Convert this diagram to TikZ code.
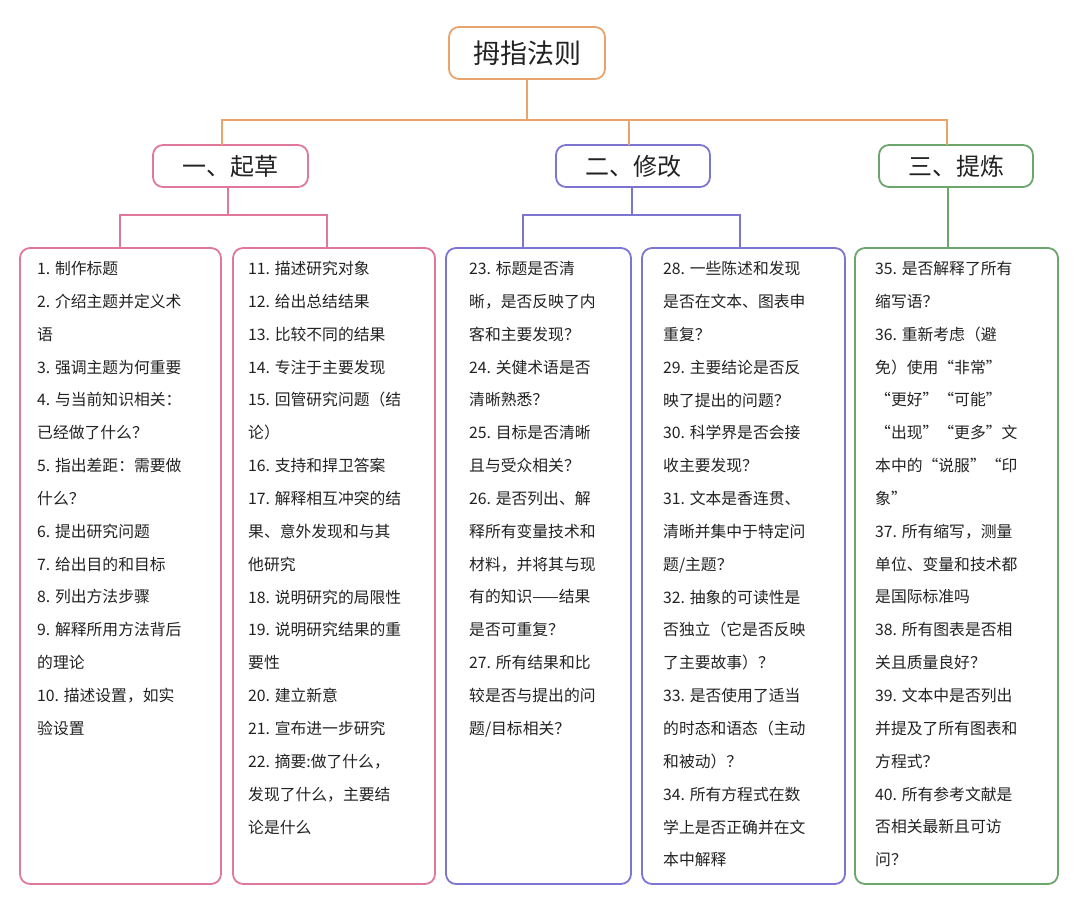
\documentclass[tikz,border=0pt]{standalone}
\usepackage{fontspec}
\setmainfont{Noto Sans CJK SC}
\definecolor{corg}{HTML}{E8A46A}
\definecolor{cpink}{HTML}{E0789A}
\definecolor{cpur}{HTML}{7C76D2}
\definecolor{cgrn}{HTML}{6CA66C}
\definecolor{ctxt}{HTML}{222222}
\tikzset{
 box/.style={draw=#1,line width=1.8pt,rounded corners=10pt,fill=white},
 lk/.style={draw=#1,line width=1.8pt},
 head/.style={font=\fontsize{24}{28}\selectfont,text=ctxt},
 body/.style={anchor=north west,align=left,text=ctxt,inner sep=0pt,font=\fontsize{15.8}{32.85}\selectfont}
}
\begin{document}
\begin{tikzpicture}[x=1pt,y=-1pt]
\useasboundingbox (0,0) rectangle (1080,902);
% root
\draw[box=corg] (449,27) rectangle (605,79);
\node[head,font=\fontsize{27}{30}\selectfont] (root) at (527,53) {拇指法则};
\draw[box=cpink] (153,145) rectangle (308,187);
\node[head] (a) at (230.5,166) {一、起草};
\draw[box=cpur] (556,145) rectangle (710,187);
\node[head] (b) at (633,166) {二、修改};
\draw[box=cgrn] (879,145) rectangle (1033,187);
\node[head] (c) at (956,166) {三、提炼};
\coordinate (r0) at (527,79);
\draw[lk=corg] (r0) -- (527,120) (222,145) -- (222,120) -- (947,120) -- (947,145) (629,120) -- (629,145);
% level 2 connectors
\draw[lk=cpink] (228,187) -- (228,215) (120,248) -- (120,215) -- (327,215) -- (327,248);
\draw[lk=cpur] (632,187) -- (632,215) (523,248) -- (523,215) -- (740,215) -- (740,248);
\draw[lk=cgrn] (948,187) -- (948,248);
% boxes
\draw[box=cpink] (20,248) rectangle (221,884);
\draw[box=cpink] (233,248) rectangle (435,884);
\draw[box=cpur] (446,248) rectangle (631,884);
\draw[box=cpur] (642,248) rectangle (845,884);
\draw[box=cgrn] (855,248) rectangle (1058,884);
\node[body] (t1) at (37,261) {1. 制作标题\\2. 介绍主题并定义术\\语\\3. 强调主题为何重要\\4. 与当前知识相关：\\已经做了什么？\\5. 指出差距：需要做\\什么？\\6. 提出研究问题\\7. 给出目的和目标\\8. 列出方法步骤\\9. 解释所用方法背后\\的理论\\10. 描述设置，如实\\验设置};
\node[body] (t2) at (248,261) {11. 描述研究对象\\12. 给出总结结果\\13. 比较不同的结果\\14. 专注于主要发现\\15. 回管研究问题（结\\论）\\16. 支持和捍卫答案\\17. 解释相互冲突的结\\果、意外发现和与其\\他研究\\18. 说明研究的局限性\\19. 说明研究结果的重\\要性\\20. 建立新意\\21. 宣布进一步研究\\22. 摘要:做了什么，\\发现了什么，主要结\\论是什么};
\node[body] (t3) at (469,261) {23. 标题是否清\\晰，是否反映了内\\客和主要发现？\\24. 关健术语是否\\清晰熟悉？\\25. 目标是否清晰\\且与受众相关？\\26. 是否列出、解\\释所有变量技术和\\材料，并将其与现\\有的知识——结果\\是否可重复？\\27. 所有结果和比\\较是否与提出的问\\题/目标相关？};
\node[body] (t4) at (663,261) {28. 一些陈述和发现\\是否在文本、图表申\\重复？\\29. 主要结论是否反\\映了提出的问题？\\30. 科学界是否会接\\收主要发现？\\31. 文本是香连贯、\\清晰并集中于特定问\\题/主题？\\32. 抽象的可读性是\\否独立（它是否反映\\了主要故事）？\\33. 是否使用了适当\\的时态和语态（主动\\和被动）？\\34. 所有方程式在数\\学上是否正确并在文\\本中解释};
\node[body] (t5) at (875,261) {35. 是否解释了所有\\缩写语？\\36. 重新考虑（避\\免）使用“非常”\\“更好”“可能”\\“出现”“更多”文\\本中的“说服”“印\\象”\\37. 所有缩写，测量\\单位、变量和技术都\\是国际标准吗\\38. 所有图表是否相\\关且质量良好？\\39. 文本中是否列出\\并提及了所有图表和\\方程式？\\40. 所有参考文献是\\否相关最新且可访\\问？};
\end{tikzpicture}
\end{document}
